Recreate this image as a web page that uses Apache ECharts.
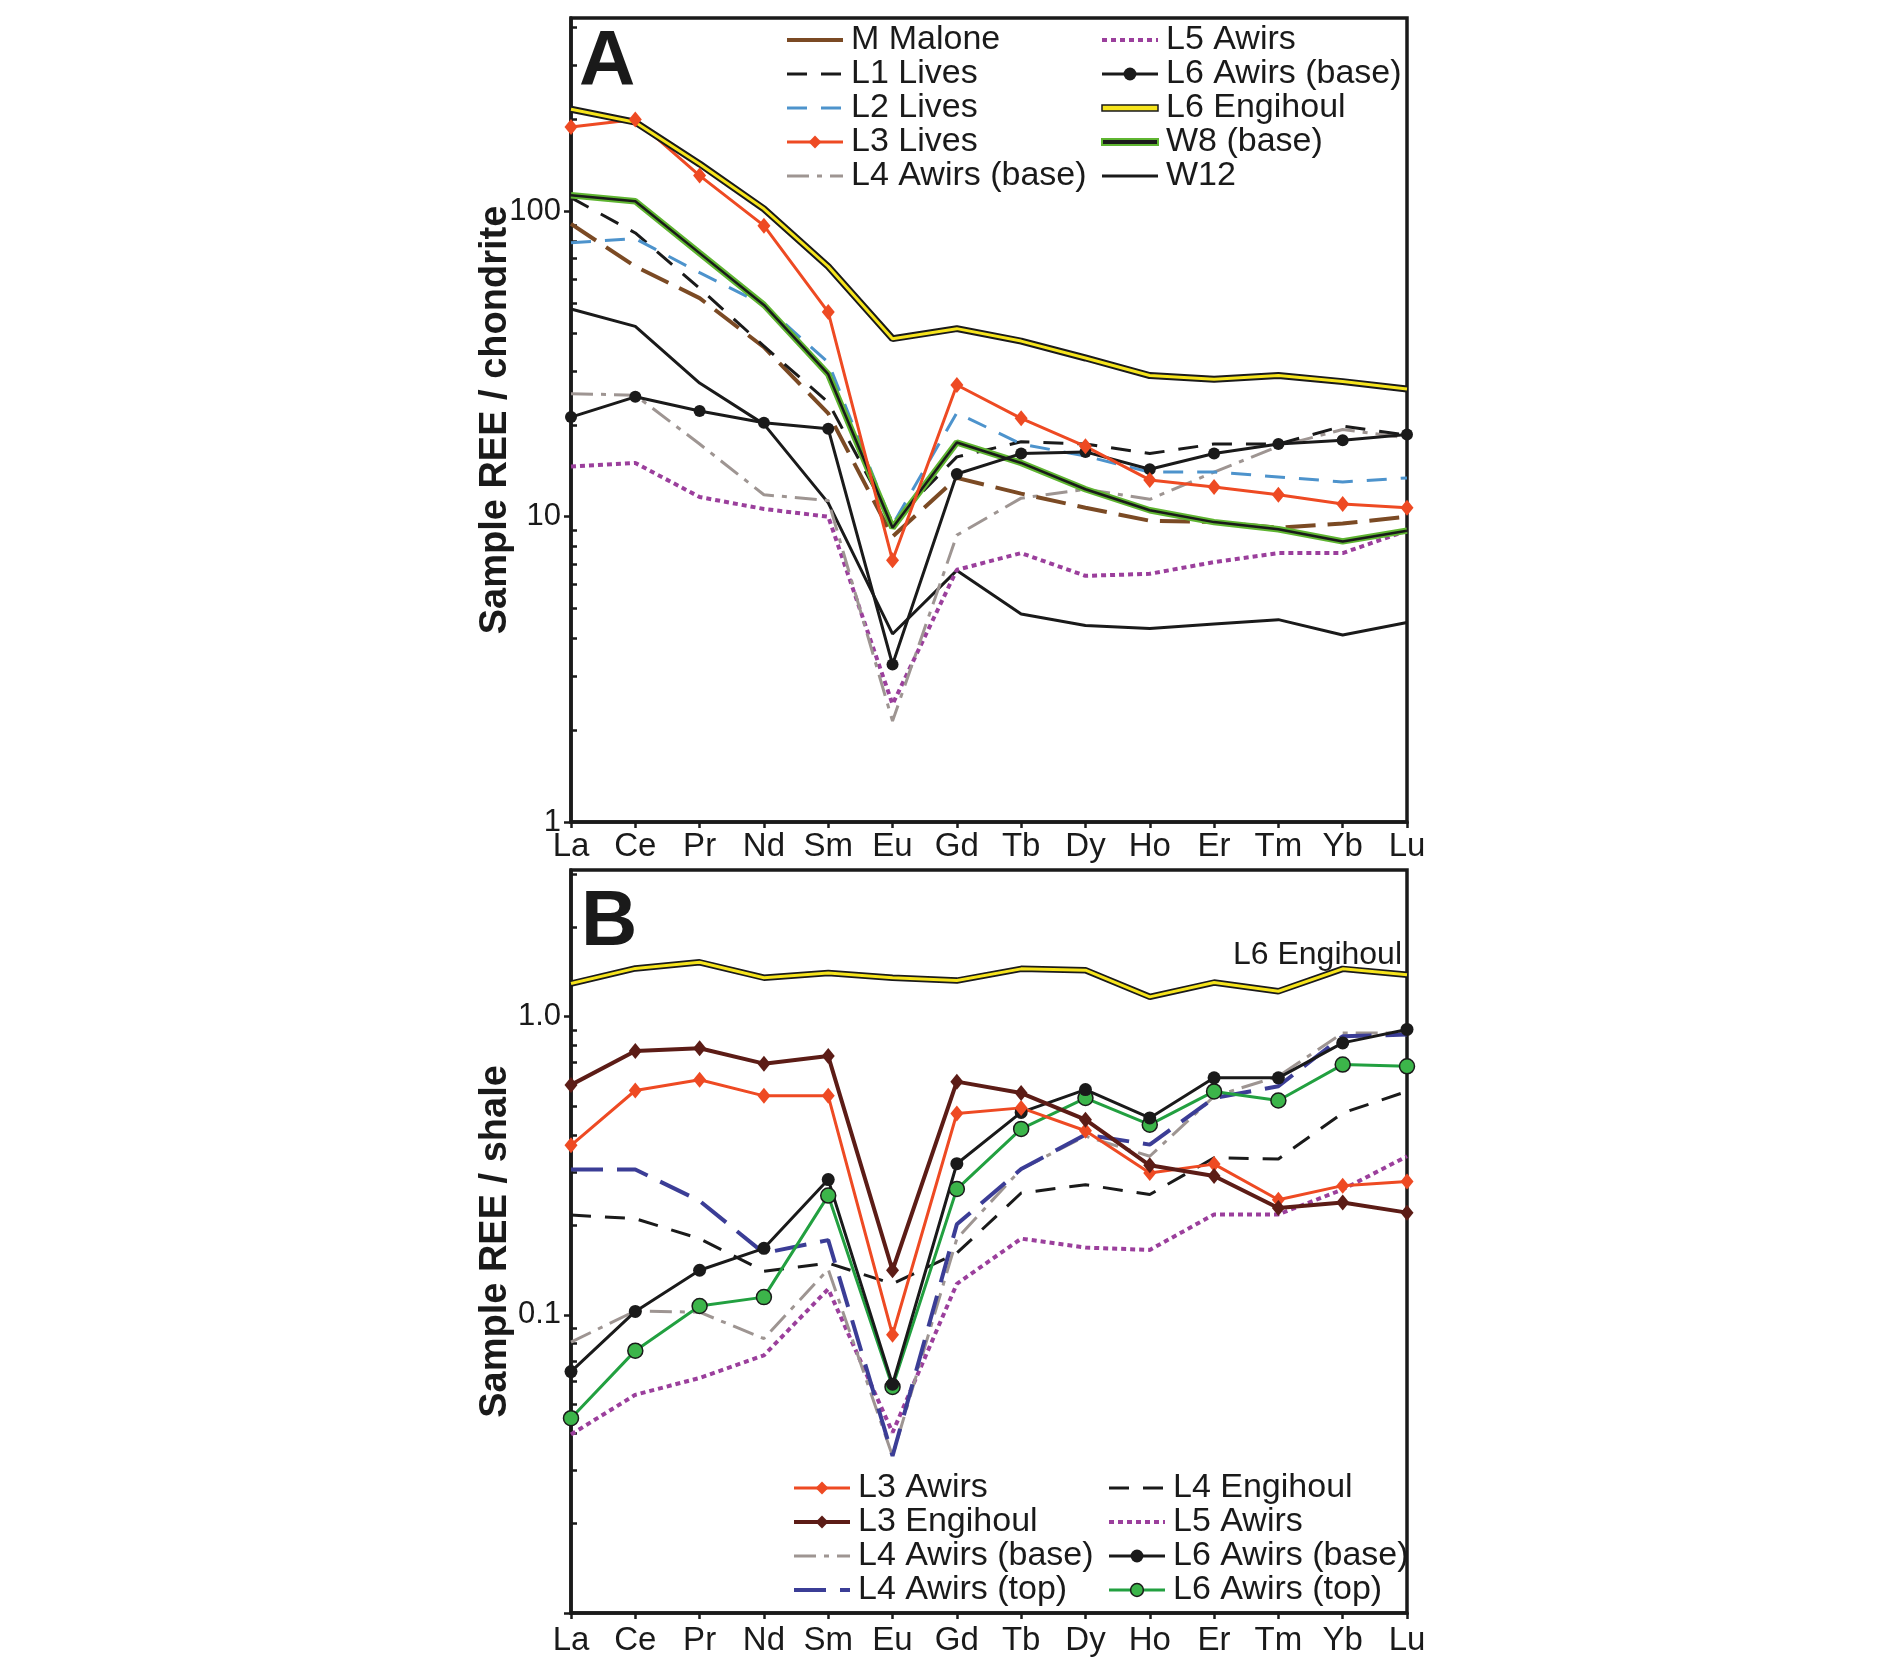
<!doctype html>
<html lang="en">
<head>
<meta charset="UTF-8">
<title>REE patterns</title>
<script src="https://cdn.jsdelivr.net/npm/echarts@6/dist/echarts.min.js"></script>
<style>
  html, body { margin: 0; padding: 0; background: #fff; }
  #main { width: 1890px; height: 1658px; }
</style>
</head>
<body>
<div id="main"></div>
<script>
// element order on the x axis
var elements = ['La', 'Ce', 'Pr', 'Nd', 'Sm', 'Eu', 'Gd', 'Tb', 'Dy', 'Ho', 'Er', 'Tm', 'Yb', 'Lu'];

// panel A: sample / chondrite
var mMalone     = [91, 66, 52, 35.9, 21.8, 8.6, 13.4, 11.9, 10.7, 9.7, 9.6, 9.2, 9.5, 10];
var l1Lives     = [111, 85, 56, 36.2, 23.7, 9.6, 15.7, 17.6, 17.3, 16.1, 17.3, 17.3, 19.8, 18.5];
var l2Lives     = [79, 81.4, 63, 49.4, 32, 9.4, 21.9, 17.3, 15.8, 14, 14, 13.5, 13, 13.4];
var l3Lives     = [189, 200, 131, 89.8, 46.8, 7.2, 27, 21, 17, 13.2, 12.5, 11.8, 11, 10.7];
var l4AwirsBase = [25.3, 25, 17.3, 11.8, 11.3, 2.14, 8.7, 11.5, 12.3, 11.4, 14, 17, 19.3, 18.1];
var l5Awirs     = [14.6, 15, 11.6, 10.6, 10, 2.43, 6.7, 7.6, 6.4, 6.5, 7.1, 7.6, 7.6, 9];
var l6AwirsBase = [21.2, 24.7, 22.2, 20.3, 19.4, 3.28, 13.8, 16.1, 16.3, 14.3, 16.1, 17.3, 17.8, 18.6];
var l6Engihoul  = [216, 196, 143, 102, 66, 38.3, 41.3, 37.6, 33.1, 29, 28.2, 29, 27.7, 26.2];
var w8Base      = [113, 108, 73, 49.4, 29.3, 9.2, 17.5, 15, 12.3, 10.5, 9.6, 9.1, 8.3, 9];
var w12         = [47.9, 42, 27.4, 20.1, 11.1, 4.13, 6.67, 4.8, 4.4, 4.3, 4.45, 4.6, 4.1, 4.5];

// panel B: sample / shale
var l3AwirsB     = [0.37, 0.565, 0.614, 0.542, 0.542, 0.0857, 0.473, 0.494, 0.414, 0.299, 0.32, 0.243, 0.271, 0.28];
var l3EngihoulB  = [0.59, 0.766, 0.783, 0.695, 0.737, 0.141, 0.605, 0.554, 0.451, 0.317, 0.292, 0.228, 0.238, 0.22];
var l4AwirsBaseB = [0.081, 0.103, 0.102, 0.0832, 0.142, 0.0336, 0.18, 0.308, 0.397, 0.34, 0.54, 0.63, 0.88, 0.88];
var l4AwirsTopB  = [0.307, 0.307, 0.241, 0.161, 0.178, 0.0336, 0.201, 0.308, 0.402, 0.372, 0.533, 0.584, 0.859, 0.87];
var l4EngihoulB  = [0.216, 0.21, 0.18, 0.14, 0.149, 0.127, 0.161, 0.256, 0.273, 0.253, 0.336, 0.333, 0.475, 0.561];
var l5AwirsB     = [0.0397, 0.0539, 0.0614, 0.0731, 0.122, 0.0403, 0.127, 0.18, 0.168, 0.165, 0.217, 0.217, 0.263, 0.34];
var l6AwirsBaseB = [0.0645, 0.1026, 0.141, 0.167, 0.284, 0.0585, 0.321, 0.477, 0.569, 0.457, 0.623, 0.623, 0.816, 0.905];
var l6AwirsTopB  = [0.045, 0.0758, 0.107, 0.1146, 0.251, 0.0573, 0.264, 0.42, 0.533, 0.434, 0.561, 0.523, 0.69, 0.681];
var l6EngihoulB  = [1.29, 1.45, 1.52, 1.35, 1.40, 1.35, 1.32, 1.445, 1.43, 1.164, 1.30, 1.216, 1.445, 1.38];

// y axis ticks
var majorTicksA = [1, 10, 100];
var minorTicksA = [2, 3, 4, 5, 6, 7, 8, 9, 20, 30, 40, 50, 60, 70, 80, 90, 200, 300, 400];
var majorTicksB = [0.01, 0.1, 1];
var labelTicksB = [0.1, 1];
var minorTicksB = [0.02, 0.03, 0.04, 0.05, 0.06, 0.07, 0.08, 0.09, 0.2, 0.3, 0.4, 0.5, 0.6, 0.7, 0.8, 0.9, 2, 3];

// legend columns
var legendA1 = ['M Malone', 'L1 Lives', 'L2 Lives', 'L3 Lives', 'L4 Awirs (base)'];
var legendA2 = ['L5 Awirs', 'L6 Awirs (base)', 'L6 Engihoul', 'W8 (base)', 'W12'];
var legendB1 = ['L3 Awirs', 'L3 Engihoul', 'L4 Awirs (base)', 'L4 Awirs (top)'];
var legendB2 = ['L4 Engihoul', 'L5 Awirs', 'L6 Awirs (base)', 'L6 Awirs (top)'];

var FONT = '"Liberation Sans", Arial, Helvetica, sans-serif';
var INK = '#1a1a1a';

// look of each sample line
var looks = {
    'M Malone':        { color: '#7b4a24', width: 4, dash: [30, 12] },
    'L1 Lives':        { color: INK, width: 3, dash: [20, 14] },
    'L2 Lives':        { color: '#4d93cc', width: 3, dash: [20, 14] },
    'L3 Lives':        { color: '#ee4a23', width: 3, symbol: 'diamond', size: [13, 16] },
    'L4 Awirs (base)': { color: '#9e9592', width: 3, dash: [22, 8, 5, 8] },
    'L5 Awirs':        { color: '#9b3f9c', width: 4, dash: [5, 4] },
    'L6 Awirs (base)': { color: INK, width: 3, symbol: 'circle', size: 12 },
    'W12':             { color: INK, width: 3 },
    'L3 Awirs':        { color: '#ee4a23', width: 3, symbol: 'diamond', size: [13, 16] },
    'L3 Engihoul':     { color: '#5c1c16', width: 4, symbol: 'diamond', size: [13, 16] },
    'L4 Awirs (top)':  { color: '#3b3d96', width: 4, dash: [32, 14] },
    'L4 Engihoul':     { color: INK, width: 3, dash: [20, 14] },
    'L6 Awirs (top)':  { color: '#22a040', width: 3, symbol: 'circle', size: 15, fill: '#3cb54a', border: INK }
};

function line(name, data, g, over) {
    var lk = over || looks[name];
    var s = {
        name: name, type: 'line', xAxisIndex: g, yAxisIndex: g * 2,
        data: data, silent: true, animation: false,
        symbol: lk.symbol || 'none', symbolSize: lk.size || 4, showSymbol: !!lk.symbol,
        lineStyle: { color: lk.color, width: lk.width, type: lk.dash || 'solid' },
        itemStyle: { color: lk.fill || lk.color, borderColor: lk.border || lk.fill || lk.color, borderWidth: lk.border ? 1.5 : 0 }
    };
    return s;
}

function legendItem(name) {
    if (name === 'L6 Engihoul') {
        return { name: name, icon: 'path://M0,0H56V6H0Z', itemStyle: { color: '#f6e41c', borderColor: INK, borderWidth: 1.5 } };
    }
    if (name === 'W8 (base)') {
        return { name: name, icon: 'path://M0,0H56V6H0Z', itemStyle: { color: INK, borderColor: '#5fb531', borderWidth: 2 } };
    }
    var lk = looks[name];
    var dash = lk.dash || 'solid';
    if (name === 'M Malone') dash = 'solid';
    return {
        name: name,
        lineStyle: { color: lk.color, width: lk.width, type: dash, opacity: 1 },
        itemStyle: lk.symbol
            ? { color: lk.fill || lk.color, borderColor: lk.border || lk.fill || lk.color, borderWidth: lk.border ? 1.5 : 0, opacity: 1 }
            : { opacity: 0 }
    };
}

function legend(names, left, top) {
    return {
        data: names.map(legendItem), left: left, top: top, orient: 'vertical',
        itemWidth: 56, itemHeight: 16, itemGap: 0, selectedMode: false, padding: 0,
        textStyle: { fontFamily: FONT, fontSize: 34, color: INK, lineHeight: 34, padding: [0, 0, 0, 3] }
    };
}

function xAxis(g) {
    return {
        type: 'category', gridIndex: g, data: elements, boundaryGap: false,
        axisLine: { lineStyle: { color: INK, width: 3.5 } },
        axisTick: { show: true, length: 6, interval: 0, lineStyle: { color: INK, width: 2.5 } },
        axisLabel: { interval: 0, margin: g === 0 ? 8 : 11, fontFamily: FONT, fontSize: 33, color: INK },
        splitLine: { show: false }
    };
}

function yMajor(g, min, max, ticks, labels, fmt, name, gap) {
    return {
        type: 'log', gridIndex: g, min: min, max: max, logBase: 10,
        name: name, nameLocation: 'middle', nameGap: gap, nameMoveOverlap: false,
        nameTextStyle: { fontFamily: FONT, fontSize: 38, fontWeight: 'bold', color: INK },
        axisLine: { show: true, lineStyle: { color: INK, width: 3.5 } },
        axisTick: { show: true, customValues: ticks, length: 7, inside: false, lineStyle: { color: INK, width: 2.5 } },
        axisLabel: { customValues: labels, formatter: fmt, margin: 10, fontFamily: FONT, fontSize: 31, color: INK },
        splitLine: { show: false }
    };
}

function yMinor(g, min, max, ticks) {
    return {
        type: 'log', gridIndex: g, min: min, max: max, logBase: 10, position: 'left',
        axisLine: { show: false },
        axisTick: { show: true, customValues: ticks, length: 6, inside: true, lineStyle: { color: INK, width: 2.5 } },
        axisLabel: { show: false },
        splitLine: { show: false }
    };
}

var mychart = echarts.init(document.getElementById('main'), null, { renderer: 'canvas' });

var option = {
    backgroundColor: '#fff',
    animation: false,
    textStyle: { fontFamily: FONT },
    title: [
        { text: 'A', left: 579, top: 24, padding: 0, textStyle: { fontFamily: FONT, fontSize: 78, fontWeight: 'bold', color: INK } },
        { text: 'B', left: 581, top: 884, padding: 0, textStyle: { fontFamily: FONT, fontSize: 78, fontWeight: 'bold', color: INK } },
        { text: 'L6 Engihoul', right: 488, top: 939, padding: 0, textStyle: { fontFamily: FONT, fontSize: 32, fontWeight: 'normal', color: INK } }
    ],
    grid: [
        { left: 571, top: 18, width: 836, height: 804, show: true, borderColor: INK, borderWidth: 3.5, containLabel: false },
        { left: 571, top: 870, width: 836, height: 743, show: true, borderColor: INK, borderWidth: 3.5, containLabel: false }
    ],
    legend: [
        legend(legendA1, 785, 23),
        legend(legendA2, 1100, 23),
        legend(legendB1, 792, 1471),
        legend(legendB2, 1107, 1471)
    ],
    xAxis: [xAxis(0), xAxis(1)],
    yAxis: [
        yMajor(0, 1, 430, majorTicksA, majorTicksA, function (v) { return String(Math.round(v)); }, 'Sample REE / chondrite', 56),
        yMinor(0, 1, 430, minorTicksA),
        yMajor(1, 0.01, 3.1, majorTicksB, labelTicksB, function (v) { return v.toFixed(1); }, 'Sample REE / shale', 56),
        yMinor(1, 0.01, 3.1, minorTicksB)
    ],
    series: [
        // panel A
        line('W12', w12, 0),
        line('L5 Awirs', l5Awirs, 0),
        line('L4 Awirs (base)', l4AwirsBase, 0),
        line('M Malone', mMalone, 0),
        line('L1 Lives', l1Lives, 0),
        line('L2 Lives', l2Lives, 0),
        line('W8 (base)', w8Base, 0, { color: '#5fb531', width: 6.5 }),
        line('W8 (base)', w8Base, 0, { color: INK, width: 2.5 }),
        line('L6 Awirs (base)', l6AwirsBase, 0),
        line('L3 Lives', l3Lives, 0),
        line('L6 Engihoul', l6Engihoul, 0, { color: INK, width: 7 }),
        line('L6 Engihoul', l6Engihoul, 0, { color: '#f6e41c', width: 3 }),
        // panel B
        line('L5 Awirs', l5AwirsB, 1),
        line('L4 Awirs (base)', l4AwirsBaseB, 1),
        line('L4 Engihoul', l4EngihoulB, 1),
        line('L4 Awirs (top)', l4AwirsTopB, 1),
        line('L6 Awirs (top)', l6AwirsTopB, 1),
        line('L6 Awirs (base)', l6AwirsBaseB, 1, { color: INK, width: 3, symbol: 'circle', size: 13 }),
        line('L3 Awirs', l3AwirsB, 1),
        line('L3 Engihoul', l3EngihoulB, 1),
        line('L6 Engihoul', l6EngihoulB, 1, { color: INK, width: 6.5 }),
        line('L6 Engihoul', l6EngihoulB, 1, { color: '#f6e41c', width: 3 })
    ]
};
mychart.setOption(option);
</script>
</body>
</html>
